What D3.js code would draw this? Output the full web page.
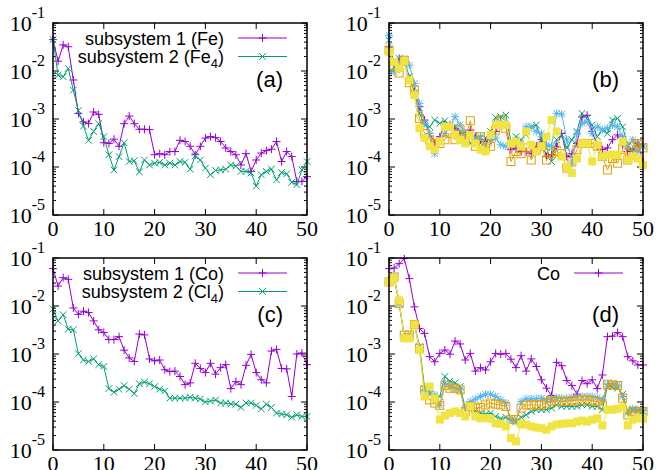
<!DOCTYPE html>
<html>
<head>
<meta charset="utf-8">
<script src="https://cdn.jsdelivr.net/npm/d3@7"></script>
<style>
  body { margin: 0; background: #fff; }
  svg { display: block; }
</style>
</head>
<body>
<div id="chart"></div>
<script>
// iteration index 0..50
const iters = d3.range(0, 51);
const xTicks = [0, 10, 20, 30, 40, 50];
const yExps = [-1, -2, -3, -4, -5];

// (a) Fe / Fe4
const aFe = [0.045,0.016,0.035,0.032,0.0065,0.0013,8.7e-4,8e-4,1.4e-3,1.25e-3,3.2e-4,3.1e-4,3.8e-4,2.7e-4,8e-4,1.15e-3,8e-4,6.1e-4,6.1e-4,6e-4,1.8e-4,1.9e-4,1.8e-4,2.1e-4,2.1e-4,3.6e-4,3.4e-4,2.7e-4,1.8e-4,2.7e-4,4.0e-4,4.3e-4,4.1e-4,3.4e-4,2.5e-4,2.1e-4,1.8e-4,1.1e-4,1.9e-4,8.1e-5,1.4e-4,1.95e-4,2.2e-4,2.35e-4,3.4e-4,1.3e-4,2.1e-4,1.65e-4,5.0e-5,5.0e-5,6.3e-5];
const aFe4 = [0.045,8.2e-3,7.6e-3,0.0113,4e-3,1.5e-3,7.1e-4,3.6e-4,5.5e-4,8e-4,4.3e-4,1.8e-4,8.7e-5,1.65e-4,3.2e-4,1.3e-4,1.35e-4,7.9e-5,1.4e-4,1.1e-4,1.2e-4,1.25e-4,1.1e-4,1.2e-4,1.1e-4,1.3e-4,1.25e-4,9e-5,1.7e-4,1.4e-4,9.5e-5,6.9e-5,8.5e-5,8.7e-5,9e-5,1.1e-4,1.05e-4,8.1e-5,8.1e-5,7.5e-5,4.0e-5,6.9e-5,8.1e-5,9e-5,5.4e-5,7.7e-5,7.2e-5,4.8e-5,4.3e-5,8.7e-5,1.3e-4];

// (b) five atoms
const b1 = [0.0318,0.0143,0.0182,0.0155,0.00698,0.00369,0.0018,9.5e-4,5.0e-4,3.1e-4,4.3e-4,7.5e-4,7.5e-4,6.4e-4,5.0e-4,5.0e-4,5.9e-4,4.3e-4,3.7e-4,3.4e-4,3.7e-4,5.5e-4,8.8e-4,7.5e-4,2.3e-4,2.5e-4,2.1e-4,2.1e-4,1.9e-4,2.7e-4,3.7e-4,1.65e-4,1.8e-4,2.7e-4,5.0e-4,1.65e-4,1.9e-4,3.1e-4,1.1e-3,1.2e-3,5.5e-4,2.7e-4,2.3e-4,2.5e-4,3.7e-4,4.65e-4,2.9e-4,2.1e-4,2.3e-4,3.1e-4,1.3e-4];
const b2 = [0.0437,0.0122,0.0182,0.0168,0.00757,0.00341,0.00131,7.5e-4,6.9e-4,9.5e-4,8.1e-4,9.2e-4,7.5e-4,6.9e-4,5.5e-4,5.0e-4,3.1e-4,4.0e-4,3.1e-4,4.0e-4,5.5e-4,1.08e-3,1.12e-3,1.21e-3,3.4e-4,4.3e-4,3.7e-4,4.65e-4,6.9e-4,7.5e-4,3.7e-4,2.5e-4,1.3e-4,3.7e-4,4.65e-4,2.5e-4,3.7e-4,5.5e-4,1.31e-3,1.03e-3,7.5e-4,4.3e-4,5.9e-4,5.0e-4,9.5e-4,1.03e-3,6.9e-4,2.7e-4,2.3e-4,3.1e-4,2.7e-4];
const b3 = [0.0555,0.0096,0.0122,0.0155,0.0132,0.0055,0.00212,8.1e-4,5.0e-4,1.9e-4,3.7e-4,5.0e-4,6.9e-4,1.12e-3,7.5e-4,5.0e-4,4.65e-4,3.7e-4,4.3e-4,2.9e-4,3.7e-4,4.0e-4,2.9e-4,2.7e-4,3.1e-4,3.1e-4,3.1e-4,6.9e-4,6.7e-4,5.5e-4,5.0e-4,2.9e-4,2.7e-4,1.31e-3,1.27e-3,3.7e-4,1.2e-4,5.0e-4,8.1e-4,8.8e-4,5.0e-4,6.9e-4,5.9e-4,6.4e-4,7.5e-4,6.9e-4,4.3e-4,2.9e-4,3.7e-4,2.1e-4,2.7e-4];
const b4 = [0.0271,0.0132,0.0091,0.0168,0.0057,0.0040,0.00103,5.0e-4,3.7e-4,3.1e-4,3.1e-4,3.7e-4,5.0e-4,3.7e-4,5.9e-4,3.7e-4,9.2e-4,2.7e-4,4.3e-4,2.5e-4,2.7e-4,5.9e-4,9.7e-4,6.4e-4,1.3e-4,2.1e-4,1.9e-4,2.5e-4,1.4e-4,2.3e-4,2.7e-4,1.4e-4,1.9e-4,2.1e-4,1.9e-4,9.5e-5,1.3e-4,2.3e-4,3.1e-4,3.1e-4,3.1e-4,2.7e-4,1.65e-4,8.7e-5,1.5e-4,1.2e-4,2.3e-4,1.4e-4,2.7e-4,3.1e-4,2.5e-4];
const b5 = [0.025,0.0155,0.0113,0.016,0.00645,0.00315,6.4e-4,4.0e-4,2.7e-4,2.3e-4,3.4e-4,6.9e-4,6.9e-4,4.65e-4,3.7e-4,3.1e-4,4.65e-4,3.1e-4,2.3e-4,2.1e-4,4.65e-4,7.5e-4,7.5e-4,7.5e-4,3.1e-4,3.4e-4,2.7e-4,5.5e-4,2.9e-4,2.1e-4,2.7e-4,4.3e-4,9.5e-4,5.5e-4,1.65e-4,1.0e-4,7.5e-5,1.5e-4,3.1e-4,3.1e-4,1.3e-4,2.9e-4,1.65e-4,1.8e-4,1.8e-4,1.8e-4,3.4e-4,1.4e-4,1.65e-4,1.5e-4,1.1e-4];

// (c) Co / Cl4
const cCo = [0.060,0.026,0.039,0.036,9.1e-3,6.7e-3,7.8e-3,7.3e-3,4.9e-3,3.2e-3,2.8e-3,2.0e-3,2.0e-3,2.3e-3,1.2e-3,8.3e-4,7.0e-4,2.6e-3,2.5e-3,7.9e-4,7.2e-4,7.5e-4,4.7e-4,4.3e-4,4.4e-4,3.4e-4,2.3e-4,2.5e-4,6.4e-4,5.0e-4,4.1e-4,6.4e-4,3.8e-4,5.2e-4,6.0e-4,1.9e-4,2.65e-4,2.3e-4,5.8e-4,9.8e-4,4.1e-4,2.9e-4,2.5e-4,1.15e-3,1.25e-3,5.0e-4,4.9e-4,1.3e-4,1.0e-3,1.05e-3,6.0e-4];
const cCl4 = [8.6e-3,4.9e-3,6.6e-3,3.3e-3,3.2e-3,1.02e-3,7.5e-4,7.0e-4,7.9e-4,6.0e-4,5.5e-4,1.9e-4,1.6e-4,1.85e-4,2.2e-4,1.85e-4,1.5e-4,2.4e-4,2.6e-4,2.4e-4,2.1e-4,1.85e-4,1.7e-4,1.2e-4,1.2e-4,1.2e-4,1.2e-4,1.25e-4,1.2e-4,1.15e-4,1.0e-4,1.05e-4,1.1e-4,9.5e-5,9.5e-5,9.1e-5,9.0e-5,7.7e-5,9.5e-5,9.5e-5,8.5e-5,7.2e-5,9.0e-5,7.7e-5,5.9e-5,5.6e-5,5.4e-5,4.8e-5,5.4e-5,5.0e-5,5.0e-5];

// (d) Co + four Cl
const d1 = [0.060,0.0615,0.0763,0.097,0.0372,0.0096,0.00341,0.00269,8.8e-4,6.9e-4,1.03e-3,1.21e-3,9.9e-4,1.86e-3,1.62e-3,7.5e-4,1.03e-3,4.4e-4,5.2e-4,4.65e-4,6.9e-4,1.03e-3,9.9e-4,1.03e-3,7.8e-4,5.2e-4,9.2e-4,4.4e-4,7.9e-4,5.5e-4,2.9e-4,1.94e-4,1.36e-4,6.7e-4,5.7e-4,2.8e-4,2.2e-4,1.45e-4,2.8e-4,2.4e-4,2.9e-4,1.9e-4,3.66e-4,2.3e-3,2.35e-3,2.8e-3,2.3e-3,8.8e-4,7.2e-4,5.9e-4,5.9e-4];
const d2 = [0.0318,0.0403,0.0113,0.00229,0.00229,0.0041,0.00142,1.94e-4,1.53e-4,1.2e-4,1.3e-4,3.4e-4,2.7e-4,2.5e-4,2.1e-4,7.45e-5,8.1e-5,6.6e-5,5.9e-5,5.6e-5,5.9e-5,5.0e-5,4.5e-5,4.8e-5,4.1e-5,3.9e-5,4.8e-5,5.4e-5,6.35e-5,6.9e-5,6.9e-5,6.9e-5,7.45e-5,8.7e-5,8.1e-5,8.1e-5,8.1e-5,8.1e-5,8.7e-5,8.7e-5,8.1e-5,8.1e-5,6.9e-5,2.1e-4,2.1e-4,1.94e-4,1.45e-4,6.35e-5,6.9e-5,6.6e-5,6.35e-5];
const d3s = [0.0318,0.0403,0.0113,0.00229,0.00229,0.0041,0.00142,1.79e-4,1.65e-4,1.41e-4,8.5e-5,2.46e-4,2.1e-4,1.94e-4,1.79e-4,7.45e-5,1.02e-4,1.15e-4,1.3e-4,1.45e-4,1.45e-4,1.3e-4,1.11e-4,9.5e-5,4.3e-5,3.9e-5,1.02e-4,1.16e-4,1.16e-4,1.16e-4,1.2e-4,1.11e-4,1.16e-4,1.24e-4,1.2e-4,1.2e-4,1.24e-4,1.3e-4,1.3e-4,1.3e-4,1.3e-4,1.24e-4,1.11e-4,2.35e-4,2.2e-4,2.27e-4,1.3e-4,5.9e-5,7.2e-5,6.9e-5,6.6e-5];
const d4 = [0.0318,0.0403,0.0113,0.00248,0.00248,0.0041,0.00131,1.79e-4,1.11e-4,9.5e-5,8.5e-5,2.2e-4,1.94e-4,1.94e-4,1.79e-4,6.35e-5,8.1e-5,7.45e-5,7.7e-5,8.7e-5,9.5e-5,9.0e-5,8.7e-5,8.1e-5,4.3e-5,4.3e-5,7.45e-5,8.7e-5,8.7e-5,8.7e-5,8.7e-5,9.5e-5,1.06e-4,1.06e-4,1.02e-4,1.02e-4,1.06e-4,1.11e-4,1.08e-4,1.11e-4,1.06e-4,1.02e-4,8.7e-5,2.35e-4,2.27e-4,2.2e-4,1.2e-4,5.4e-5,6.35e-5,6.35e-5,6.35e-5];
const d5 = [0.0318,0.0372,0.0132,0.00212,0.00212,0.0041,0.00121,1.3e-4,2.1e-4,1.2e-4,4.3e-5,5.2e-5,5.9e-5,6.35e-5,5.9e-5,5.0e-5,8.1e-5,5.0e-5,4.6e-5,4.6e-5,4.5e-5,3.6e-5,3.5e-5,3.1e-5,1.77e-5,1.51e-5,3.4e-5,3.4e-5,3.1e-5,2.95e-5,2.86e-5,2.64e-5,3.1e-5,3.4e-5,3.5e-5,3.6e-5,3.6e-5,3.9e-5,4.1e-5,3.9e-5,4.3e-5,4.6e-5,3.25e-5,6.9e-5,6.9e-5,7.2e-5,7.7e-5,3.25e-5,4.3e-5,4.6e-5,4.5e-5];

// gnuplot default line colours
const colors = ["#9400d3", "#009e73", "#56b4e9", "#e69f00", "#f0e442"];
const markers = ["plus", "cross", "star", "box", "fbox"];

const W = 657, H = 470;
const pw = 254, ph = 192;

const panels = [
  { tag: "(a)", left: 53, top: 23, series: [aFe, aFe4],
    legend: [["subsystem 1 (Fe", null, ")"], ["subsystem 2 (Fe", "4", ")"]] },
  { tag: "(b)", left: 389, top: 23, series: [b1, b2, b3, b4, b5], legend: [] },
  { tag: "(c)", left: 53, top: 258, series: [cCo, cCl4],
    legend: [["subsystem 1 (Co", null, ")"], ["subsystem 2 (Cl", "4", ")"]] },
  { tag: "(d)", left: 389, top: 258, series: [d1, d2, d3s, d4, d5],
    legend: [["Co", null, ""]] }
];

const svg = d3.select("#chart").append("svg")
  .attr("width", W).attr("height", H);

function drawMarker(g, type, color) {
  const s = 4;
  if (type === "plus" || type === "star") {
    g.append("path").attr("d", `M${-s},0H${s}M0,${-s}V${s}`)
      .attr("stroke", color).attr("stroke-width", 1).attr("fill", "none");
  }
  if (type === "cross" || type === "star") {
    const c = 3.3;
    g.append("path").attr("d", `M${-c},${-c}L${c},${c}M${-c},${c}L${c},${-c}`)
      .attr("stroke", color).attr("stroke-width", 1).attr("fill", "none");
  }
  if (type === "box") {
    g.append("rect").attr("x", -4).attr("y", -4).attr("width", 8).attr("height", 8)
      .attr("stroke", color).attr("stroke-width", 1).attr("fill", "none");
  }
  if (type === "fbox") {
    g.append("rect").attr("x", -4).attr("y", -4).attr("width", 8).attr("height", 8)
      .attr("fill", color);
  }
}

panels.forEach((p) => {
  const g = svg.append("g").attr("transform", `translate(${p.left},${p.top})`);
  const X = d3.scaleLinear().domain([0, 50]).range([0, pw]);
  const Y = d3.scaleLog().domain([1e-5, 1e-1]).range([ph, 0]);

  // ticks, mirrored on all four sides
  const tk = g.append("g").attr("stroke", "#000").attr("stroke-width", 1);
  Y.ticks().forEach((v) => {
    const major = Math.abs(Math.log10(v) - Math.round(Math.log10(v))) < 1e-9;
    const len = major ? 6 : 3;
    const yy = Y(v);
    tk.append("line").attr("x1", 0).attr("x2", len).attr("y1", yy).attr("y2", yy);
    tk.append("line").attr("x1", pw).attr("x2", pw - len).attr("y1", yy).attr("y2", yy);
  });
  xTicks.forEach((t) => {
    const xx = X(t);
    tk.append("line").attr("x1", xx).attr("x2", xx).attr("y1", ph).attr("y2", ph - 6);
    tk.append("line").attr("x1", xx).attr("x2", xx).attr("y1", 0).attr("y2", 6);
  });

  // y labels 10^n
  yExps.forEach((e) => {
    const t = g.append("text")
      .attr("x", -8).attr("y", Y(Math.pow(10, e)) + 8)
      .attr("text-anchor", "end")
      .attr("font-family", "Liberation Serif, serif")
      .attr("font-size", 22);
    t.append("tspan").text("10");
    t.append("tspan").attr("dy", -13).attr("font-size", 16).text(String(e));
  });
  // x labels
  xTicks.forEach((t) => {
    g.append("text")
      .attr("x", X(t)).attr("y", ph + 21)
      .attr("text-anchor", "middle")
      .attr("font-family", "Liberation Serif, serif")
      .attr("font-size", 22)
      .text(t);
  });

  // series
  const line = d3.line().x((d, i) => X(iters[i])).y((d) => Y(d));
  p.series.forEach((vals, si) => {
    g.append("path").datum(vals)
      .attr("fill", "none")
      .attr("stroke", colors[si])
      .attr("stroke-width", 1)
      .attr("d", line);
    vals.forEach((v, i) => {
      const m = g.append("g").attr("transform", `translate(${X(iters[i])},${Y(v)})`);
      drawMarker(m, markers[si], colors[si]);
    });
  });

  // legend
  p.legend.forEach((row, ri) => {
    const ly = 15 + ri * 18.5;
    const t = g.append("text")
      .attr("x", pw - 83).attr("y", ly + 6.5)
      .attr("text-anchor", "end")
      .attr("font-family", "Liberation Sans, Arial, sans-serif")
      .attr("font-size", 18);
    t.append("tspan").text(row[0]);
    if (row[1]) {
      t.append("tspan").attr("dy", 5).attr("font-size", 13).text(row[1]);
      t.append("tspan").attr("dy", -5).text(row[2]);
    } else if (row[2]) {
      t.append("tspan").text(row[2]);
    }
    g.append("line")
      .attr("x1", pw - 69).attr("x2", pw - 20)
      .attr("y1", ly).attr("y2", ly)
      .attr("stroke", colors[ri]).attr("stroke-width", 1);
    const m = g.append("g").attr("transform", `translate(${pw - 44.5},${ly})`);
    drawMarker(m, markers[ri], colors[ri]);
  });

  // panel tag
  g.append("text")
    .attr("x", pw - 24).attr("y", 64)
    .attr("text-anchor", "end")
    .attr("font-family", "Liberation Sans, Arial, sans-serif")
    .attr("font-size", 22)
    .text(p.tag);

  // border
  g.append("rect")
    .attr("x", 0).attr("y", 0).attr("width", pw).attr("height", ph)
    .attr("fill", "none").attr("stroke", "#000").attr("stroke-width", 1.5);
});
</script>
</body>
</html>
